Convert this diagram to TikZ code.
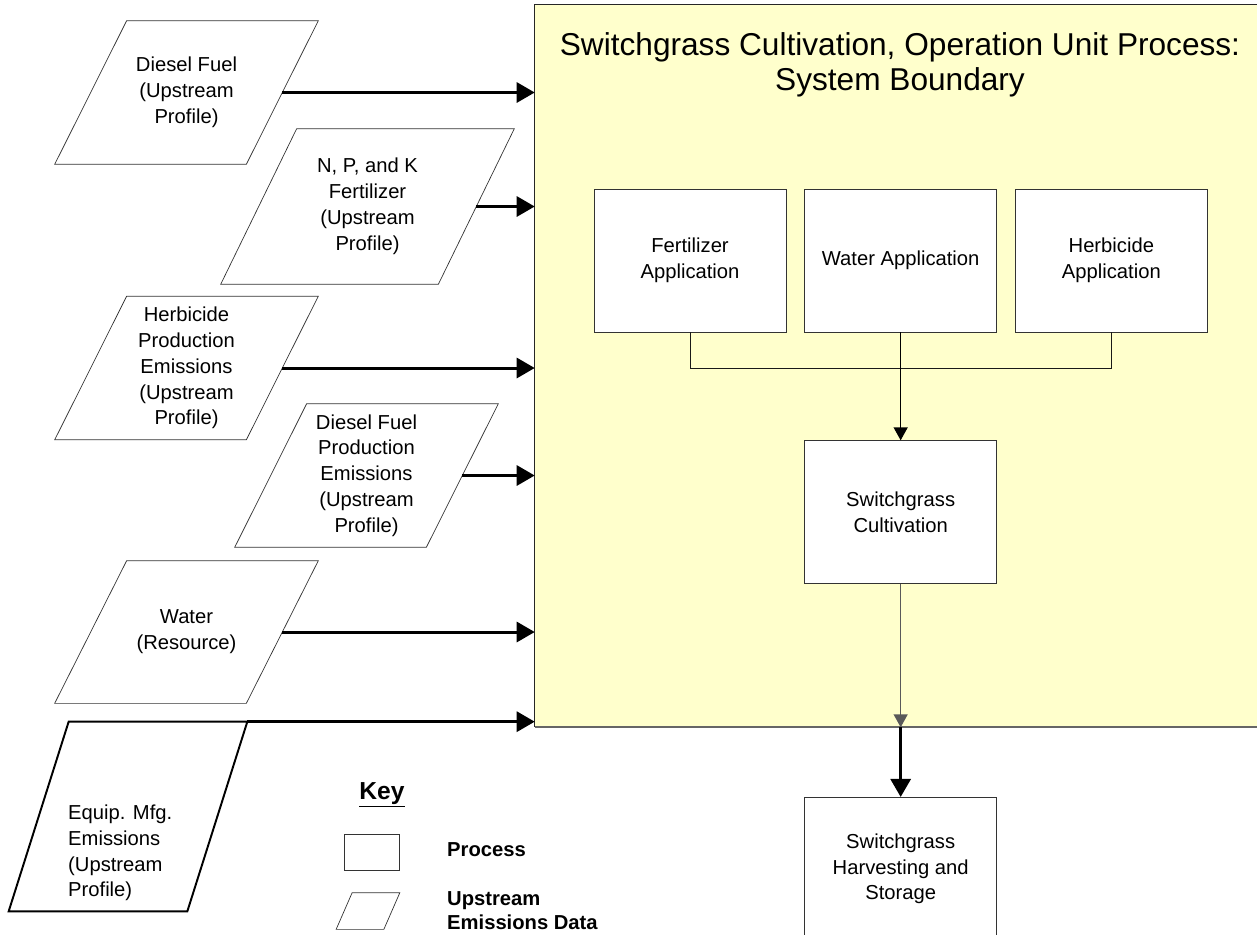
\documentclass[tikz,border=0pt]{standalone}
\usepackage{fontspec}
\setmainfont{Liberation Sans}
\usepackage{xcolor}
\usetikzlibrary{positioning, arrows.meta}
\definecolor{bound-yellow}{RGB}{255,255,204}

\begin{document}
\begin{tikzpicture}[x=0.02cm, y=-0.02cm]
				\tikzset{proc/.style={rectangle, draw=black!80, fill=white, minimum width=3.84cm, minimum height=2.86cm, align=center, font=\fontsize{11.5}{14.7}\selectfont}}
				\tikzset{data/.style={rectangle, inner sep=0pt, align=center, minimum width=5.26cm, minimum height=2.86cm, font=\fontsize{11.5}{14.7}\selectfont}}
				\tikzset{slant/.style={draw=black!80, line join=miter}}
				\tikzset{arr/.style={-{Triangle[length=0.36cm, width=0.4cm]}, line width=1.7pt}}
				\tikzset{link/.style={-{Triangle[length=0.26cm, width=0.28cm]}, line width=0.8pt}}
				\tikzset{keytxt/.style={font=\bfseries\fontsize{11.5}{13.6}\selectfont, align=left}}
				
				\useasboundingbox (0,0) rectangle (1257,934);
				% system boundary
				\node[rectangle, fill=bound-yellow, minimum width=14.54cm, minimum height=14.44cm, inner sep=0pt] (bound) at (898.5,366) {};
				\draw[black!85] (bound.north east) -- (bound.north west) -- (bound.south west);
				\draw[black!60, line width=1.2pt] (bound.south west) -- (bound.south east);
				\node[align=center, font=\fontsize{18}{20}\selectfont] (title) at (900,65) {Switchgrass Cultivation, Operation Unit Process:\\System Boundary};
				
				% processes
				\node[proc] (fertapp) at (690,260.5) {Fertilizer\\Application};
				\node[proc, right=0.36cm of fertapp] (waterapp) {Water Application};
				\node[proc, right=0.36cm of waterapp] (herbapp) {Herbicide\\Application};
				\node[proc, below=2.16cm of waterapp] (cultiv) {Switchgrass\\Cultivation};
				\node[proc, below=4.26cm of cultiv] (harvest) {Switchgrass\\Harvesting and\\Storage};
				\coordinate (join) at (waterapp.south |- 0,368);
				\draw[black!90] (fertapp.south) |- (join) -| (herbapp.south);
				\draw[link] (waterapp.south) -- (cultiv.north);
				\draw[link, black!65] (cultiv.south) -- (cultiv.south |- bound.south);
				\draw[arr] (cultiv.south |- bound.south) -- (harvest.north);
				
				% upstream data
				\node[data] (diesel) at (186.5,92.5) {Diesel Fuel\\(Upstream\\Profile)};
				\node[data, minimum width=5.86cm, minimum height=3.1cm] (npk) at (367.5,206.5) {N, P, and K\\Fertilizer\\(Upstream\\Profile)};
				\node[data] (herbprod) at (186.5,368) {Herbicide\\Production\\Emissions\\(Upstream\\Profile)};
				\node[data] (dieselprod) at (366.5,475.5) {Diesel Fuel\\Production\\Emissions\\(Upstream\\Profile)};
				\node[data, minimum height=2.84cm] (water) at (186.5,632) {Water\\(Resource)};
				\node[data, minimum width=4.76cm, minimum height=3.78cm] (equip) at (128,816.5) {};
				\node[align=left, anchor=west, font=\fontsize{11.5}{14.7}\selectfont] (equiptxt) at (62,853) {Equip. Mfg.\\Emissions\\(Upstream\\Profile)};
				\foreach \n/\s in {diesel/72, npk/76, herbprod/72, dieselprod/72, water/72}{
					\draw[slant] ([xshift=\s*0.02cm]\n.north west) -- (\n.north east) -- ([xshift=-\s*0.02cm]\n.south east) -- (\n.south west) -- cycle;
					\draw[arr] ([xshift=-\s*0.01cm]\n.east) -- (\n.east -| bound.west);
				}
				\draw[slant, draw=black, line width=1.1pt] ([xshift=1.2cm]equip.north west) -- (equip.north east) -- ([xshift=-1.2cm]equip.south east) -- (equip.south west) -- cycle;
				\draw[arr] (equip.north east) -- (equip.north east -| bound.west);
				
				% key
				\node[font=\bfseries\fontsize{14}{17}\selectfont] (key) at (382,795) {\underline{Key}};
				\node[rectangle, draw=black!80, minimum width=1.1cm, minimum height=0.72cm] (keyproc) at (372,852) {};
				\node[keytxt, anchor=west] (keyproctxt) at (441,850) {Process};
				\node[data, minimum width=1.26cm, minimum height=0.72cm] (keydata) at (368,911) {};
				\draw[slant] ([xshift=0.32cm]keydata.north west) -- (keydata.north east) -- ([xshift=-0.32cm]keydata.south east) -- (keydata.south west) -- cycle;
				\node[keytxt, anchor=west] (keydatatxt) at (441,911) {Upstream\\Emissions Data};
			\end{tikzpicture}
\end{document}
